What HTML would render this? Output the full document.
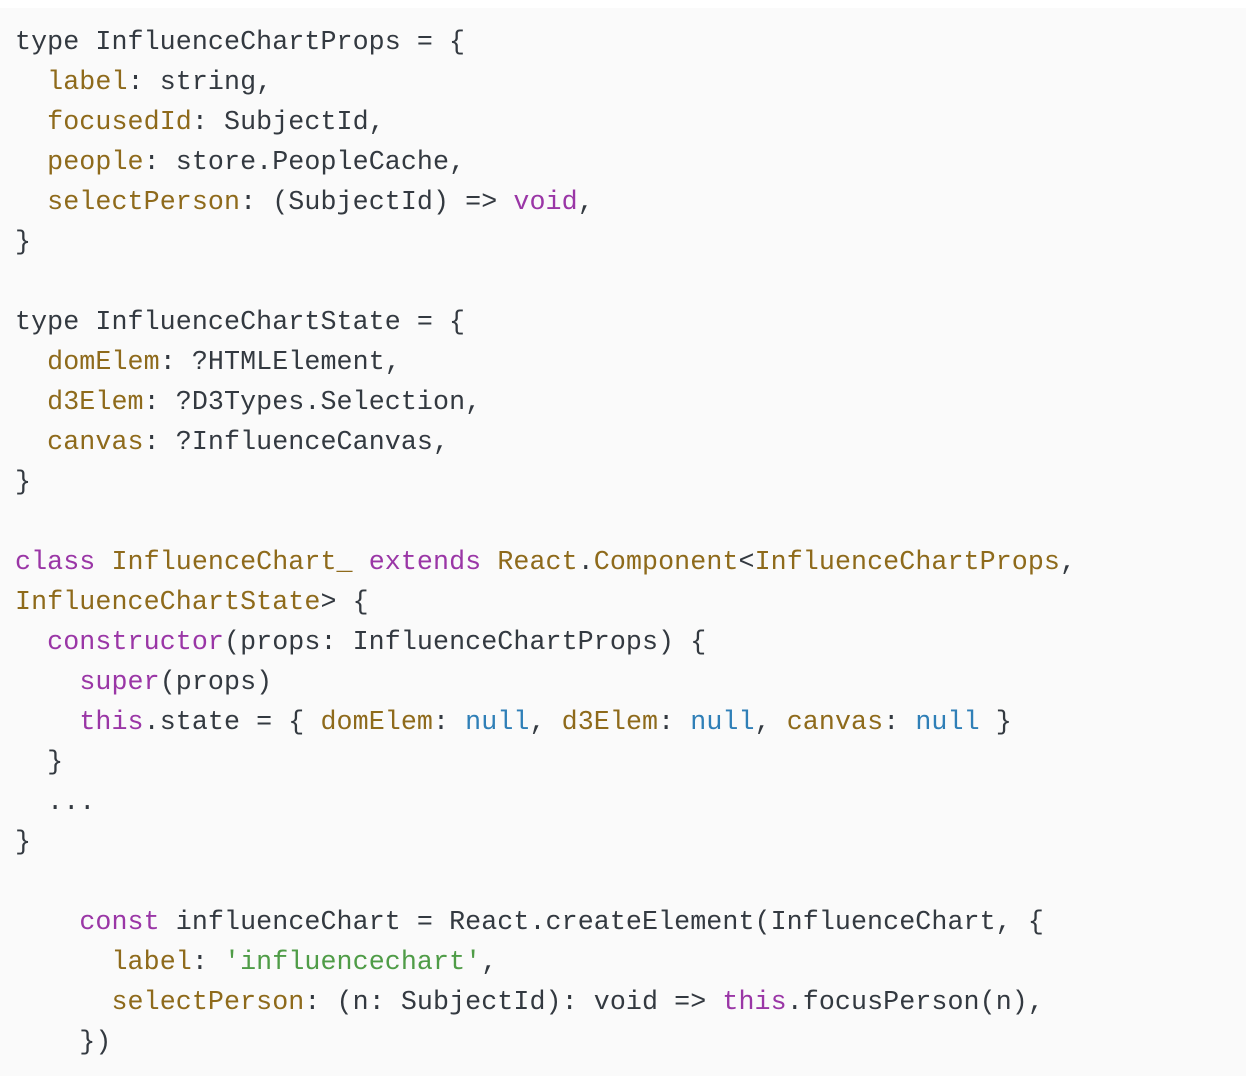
<!DOCTYPE html>
<html><head><style>
html,body{margin:0;padding:0;background:#fff;width:1246px;height:1076px;overflow:hidden}
.box{position:absolute;left:0;top:8px;width:1246px;height:1068px;background:#fafafa}
pre{position:absolute;left:15px;top:23px;margin:0;font-family:"Liberation Mono","DejaVu Sans Mono",monospace;font-size:26.67px;letter-spacing:0.08px;line-height:40px;color:#333940;white-space:pre}
.p{color:#8e6a1b}.k{color:#9a36a6}.n{color:#2f7fb7}.s{color:#4f9c47}
</style></head><body><div class="box"></div>
<pre>type InfluenceChartProps = {
  <span class="p">label</span>: string,
  <span class="p">focusedId</span>: SubjectId,
  <span class="p">people</span>: store.PeopleCache,
  <span class="p">selectPerson</span>: (SubjectId) =&gt; <span class="k">void</span>,
}

type InfluenceChartState = {
  <span class="p">domElem</span>: ?HTMLElement,
  <span class="p">d3Elem</span>: ?D3Types.Selection,
  <span class="p">canvas</span>: ?InfluenceCanvas,
}

<span class="k">class</span> <span class="p">InfluenceChart_</span> <span class="k">extends</span> <span class="p">React</span>.<span class="p">Component</span>&lt;<span class="p">InfluenceChartProps</span>,
<span class="p">InfluenceChartState</span>&gt; {
  <span class="k">constructor</span>(props: InfluenceChartProps) {
    <span class="k">super</span>(props)
    <span class="k">this</span>.state = { <span class="p">domElem</span>: <span class="n">null</span>, <span class="p">d3Elem</span>: <span class="n">null</span>, <span class="p">canvas</span>: <span class="n">null</span> }
  }
  ...
}

    <span class="k">const</span> influenceChart = React.createElement(InfluenceChart, {
      <span class="p">label</span>: <span class="s">'influencechart'</span>,
      <span class="p">selectPerson</span>: (n: SubjectId): void =&gt; <span class="k">this</span>.focusPerson(n),
    })</pre>
</body></html>
